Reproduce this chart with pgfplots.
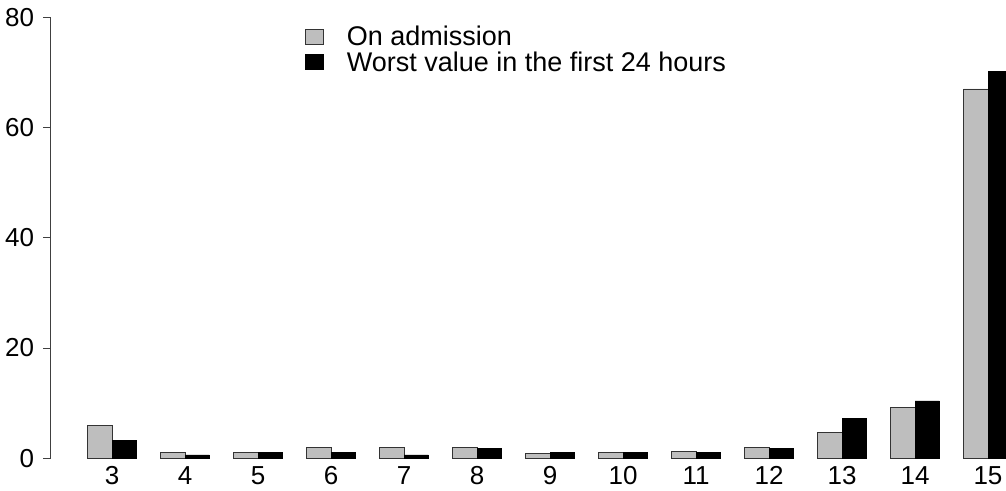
\documentclass[border=0pt]{standalone}
\usepackage{fontspec}
\setmainfont{Liberation Sans}
\usepackage{pgfplots}
\pgfplotsset{compat=1.18}
\usepackage{pgfplotstable}
\definecolor{rgray}{HTML}{BEBEBE}
\pgfplotstableread{
score adm worst
3  6.0  3.2
4  1.1  0.6
5  1.1  1.0
6  2.0  1.0
7  2.0  0.6
8  2.0  1.8
9  0.8  1.0
10 1.1  1.0
11 1.3  1.0
12 2.0  1.8
13 4.7  7.3
14 9.3  10.4
15 67.0 70.2
}\data
\begin{document}
\begin{tikzpicture}
\begin{axis}[
  scale only axis, width=955.3pt, height=441pt,
  xmin=-0.52, xmax=38.74, ymin=0, ymax=80,
  clip=false,
  axis lines*=left,
  x axis line style={draw=none},
  y axis line style={line width=0.8pt, black!75},
  xtick={2,5,...,38},
  xticklabels={3,4,5,6,7,8,9,10,11,12,13,14,15},
  ytick={0,20,40,60,80},
  tick align=outside,
  major tick length=7.5pt,
  xtick style={draw=none},
  ytick style={line width=0.8pt, black!75},
  /pgf/number format/assume math mode=true,
  tick label style={font=\fontsize{26}{30}\selectfont, inner sep=0pt},
  xticklabel style={anchor=north, yshift=-0.6pt},
  yticklabel style={anchor=east, xshift=-9pt},
  legend style={draw=none, fill=none, inner sep=0pt, outer sep=0pt,
    at={(rel axis cs:0,1)}, anchor=north west, xshift=254.3pt, yshift=-9pt,
    font=\fontsize{27}{31}\selectfont, row sep=4.5pt,
    nodes={inner sep=0pt, anchor=west},
    /tikz/column 1/.style={column sep=23pt}},
  legend cell align=left,
  legend image code/.code={\draw[#1, line width=0.8pt] (0pt,-7.5pt) rectangle (18pt,7.5pt);},
]
\addplot[ybar, bar width=1, bar shift=0pt, fill=rgray, draw=black!80, line width=0.8pt]
  table[x expr=3*\coordindex+1.5, y=adm] {\data};
\addplot[ybar, bar width=1, bar shift=0pt, fill=black, draw=black, line width=0.8pt]
  table[x expr=3*\coordindex+2.5, y=worst] {\data};
\legend{On admission, Worst value in the first 24 hours}
\coordinate (ll) at (rel axis cs:0,0);
\coordinate (ur) at (rel axis cs:1,1);
\end{axis}
\pgfresetboundingbox
\path ([xshift=-50.7pt,yshift=-32.7pt]ll) rectangle ([yshift=17.3pt]ur);
\end{tikzpicture}
\end{document}
